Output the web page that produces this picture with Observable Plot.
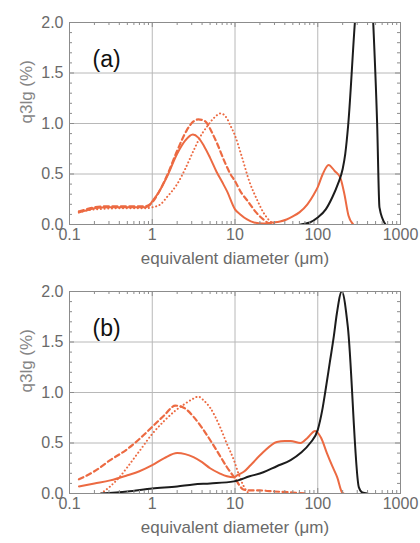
<!DOCTYPE html>
<html>
<head>
<meta charset="utf-8">
<script src="https://cdn.jsdelivr.net/npm/d3@7"></script>
<script src="https://cdn.jsdelivr.net/npm/@observablehq/plot@0.6"></script>
<style>
  body { margin: 0; background: #fff; }
  #chart { width: 420px; }
  #chart svg { display: block; }
</style>
</head>
<body>
<div id="chart"></div>
<script>
// ---- data: [diameter (µm), q3lg (%)] ----
const aSolid = [[0.13,0.12],[0.16,0.14],[0.2,0.16],[0.3,0.17],[0.5,0.17],[0.8,0.17],[0.9,0.18],[1,0.23],[1.2,0.32],[1.5,0.47],[2,0.70],[2.5,0.83],[3.1,0.89],[3.6,0.86],[4.2,0.78],[5,0.66],[6,0.52],[7,0.42],[8,0.33],[10,0.15],[11.6,0.10],[14,0.05],[17,0.02],[22,0.01],[28,0.02],[35,0.03],[42,0.05],[50,0.08],[60,0.12],[75,0.2],[90,0.3],[100,0.37],[115,0.5],[135,0.59],[160,0.53],[188,0.46],[210,0.3],[235,0.09],[269,0]];
const aDashed = [[0.13,0.13],[0.16,0.15],[0.2,0.17],[0.3,0.18],[0.5,0.18],[0.8,0.18],[0.9,0.19],[1,0.22],[1.2,0.32],[1.5,0.48],[2,0.73],[2.6,0.93],[3.15,1.02],[3.6,1.04],[4.2,1.03],[4.6,1.0],[5.2,0.92],[6.1,0.80],[7.5,0.62],[8.8,0.5],[10,0.43],[12,0.31],[14,0.24],[18,0.12],[22,0.05],[26,0.01],[30,0]];
const aDotted = [[0.13,0.12],[0.2,0.15],[0.4,0.16],[0.8,0.16],[1,0.17],[1.26,0.2],[1.5,0.27],[2,0.40],[2.5,0.55],[3.15,0.73],[4,0.9],[4.6,0.97],[5.5,1.05],[6.7,1.1],[8,1.05],[8.8,0.98],[10,0.88],[12,0.68],[15,0.42],[18.6,0.24],[22,0.12],[26,0.04],[30,0]];
const aBlack = [[62,0],[80,0.02],[100,0.07],[125,0.15],[150,0.27],[175,0.4],[200,0.55],[215,0.7],[233,0.98],[281,2.0],[380,3.2],[468,2.0],[522,1.0],[557,0.17],[659,0]];

const bSolid = [[0.13,0.07],[0.2,0.10],[0.31,0.13],[0.5,0.18],[0.7,0.22],[1,0.28],[1.4,0.35],[2,0.40],[2.5,0.39],[3.15,0.36],[4,0.31],[5,0.25],[6.5,0.2],[8,0.17],[9.7,0.16],[10.6,0.18],[13,0.22],[15.4,0.28],[22,0.41],[32,0.51],[40,0.52],[47,0.52],[62,0.50],[75,0.55],[93,0.62],[110,0.55],[129,0.40],[150,0.27],[172,0.16],[197,0.01],[205,0]];
const bDashed = [[0.13,0.14],[0.2,0.22],[0.31,0.33],[0.5,0.44],[0.7,0.54],[1,0.66],[1.38,0.77],[1.9,0.87],[2.4,0.85],[3.15,0.76],[4,0.65],[5,0.53],[6.5,0.38],[8,0.26],[10,0.15],[12.6,0.04],[15,0.03],[20,0.03],[30,0.02],[50,0.01],[70,0]];
const bDotted = [[0.24,0],[0.31,0.07],[0.4,0.16],[0.5,0.26],[0.7,0.42],[1,0.59],[1.4,0.72],[1.9,0.82],[2.5,0.89],[3.15,0.94],[3.6,0.96],[4.2,0.92],[5,0.85],[6.5,0.67],[8,0.49],[9.7,0.33],[11,0.2],[12.6,0.08],[14.6,0]];
const bBlack = [[0.24,0],[0.5,0.02],[1,0.05],[2,0.07],[3.15,0.09],[5,0.10],[9.7,0.12],[15,0.17],[22,0.21],[32,0.27],[47,0.33],[62,0.40],[81,0.5],[100,0.63],[113,0.82],[124,1.02],[140,1.3],[156,1.55],[170,1.78],[195,2.0],[231,1.65],[314,0.06],[345,0.01],[400,0]];

// ---- ticks / labels ----
const xTicks = [0.1, 1, 10, 100, 1000];
const xTickLabels = ["0.1", "1", "10", "100", "1000"];
const yTicks = [0, 0.5, 1, 1.5, 2];
const yTickLabels = ["0.0", "0.5", "1.0", "1.5", "2.0"];
const xGrid = [1, 10, 100];
const yGrid = [0.5, 1, 1.5];
const xMinor = d3.range(-1, 3).flatMap(e => d3.range(2, 10).map(m => m * 10 ** e));
const yMinor = d3.range(0, 21).map(i => i / 10).filter(v => Math.round(v * 10) % 5 !== 0);

const xTitle = "equivalent diameter (μm)";
const yTitle = "q3lg (%)";
const ORANGE = "#ec6a42";
const BLACK = "#1c1c1c";
const AXIS = "#8c8c8c";
const LABEL = "#6a6a6a";

const PW = 331, PH = 202; // frame size in px

function panel(letter, solid, dashed, dotted, black, height, marginTop) {
  const ln = {x: d => d[0], y: d => d[1], curve: "monotone-x", clip: true};
  const tx = (len, side) => ({x: d => d, stroke: AXIS, [side === "bottom" ? "insetTop" : "insetBottom"]: PH - len});
  const ty = (len, side) => ({y: d => d, stroke: AXIS, [side === "left" ? "insetRight" : "insetLeft"]: PW - len});
  return Plot.plot({
    width: 420, height,
    marginLeft: 69, marginRight: 20, marginTop, marginBottom: height - marginTop - PH,
    style: {fontFamily: "'Liberation Sans', Arial, sans-serif", background: "#fff"},
    x: {type: "log", domain: [0.1, 1000], axis: null},
    y: {domain: [0, 2], axis: null},
    marks: [
      Plot.gridX(xGrid, {stroke: "#b8b8b8", strokeOpacity: 1}),
      Plot.gridY(yGrid, {stroke: "#b8b8b8", strokeOpacity: 1}),
      Plot.line(dotted, {...ln, stroke: ORANGE, strokeWidth: 2, strokeDasharray: "0.1,3.6", strokeLinecap: "round"}),
      Plot.line(dashed, {...ln, stroke: ORANGE, strokeWidth: 2.2, strokeDasharray: "5,3.5"}),
      Plot.line(solid, {...ln, stroke: ORANGE, strokeWidth: 2}),
      Plot.line(black, {...ln, stroke: BLACK, strokeWidth: 2}),
      Plot.frame({stroke: AXIS}),
      // inward ticks on all four sides
      Plot.tickX(xMinor, tx(3, "bottom")),
      Plot.tickX(xMinor, tx(3, "top")),
      Plot.tickX(xTicks, tx(5, "bottom")),
      Plot.tickX(xTicks, tx(5, "top")),
      Plot.tickY(yMinor, ty(3, "left")),
      Plot.tickY(yMinor, ty(3, "right")),
      Plot.tickY(yTicks, ty(5, "left")),
      Plot.tickY(yTicks, ty(5, "right")),
      // tick labels
      Plot.text(xTicks, {x: d => d, text: (d, i) => xTickLabels[i], frameAnchor: "bottom", dy: 15,
        fontSize: 16, fill: LABEL}),
      Plot.text(yTicks, {y: d => d, text: (d, i) => yTickLabels[i], frameAnchor: "left", dx: -6,
        textAnchor: "end", fontSize: 16, fill: LABEL}),
      // axis titles
      Plot.text([xTitle], {frameAnchor: "bottom", dy: 39, fontSize: 17, fill: LABEL}),
      Plot.text([yTitle], {frameAnchor: "left", dx: -43, rotate: -90, fontSize: 17, fill: "#858585"}),
      Plot.text([letter], {frameAnchor: "top-left", dx: 23, dy: 28, fontSize: 23, textAnchor: "start", fill: "#111"})
    ]
  });
}

const chart = document.getElementById("chart");
chart.append(panel("(a)", aSolid, aDashed, aDotted, aBlack, 270, 22));
chart.append(panel("(b)", bSolid, bDashed, bDotted, bBlack, 273, 21));
</script>
</body>
</html>
